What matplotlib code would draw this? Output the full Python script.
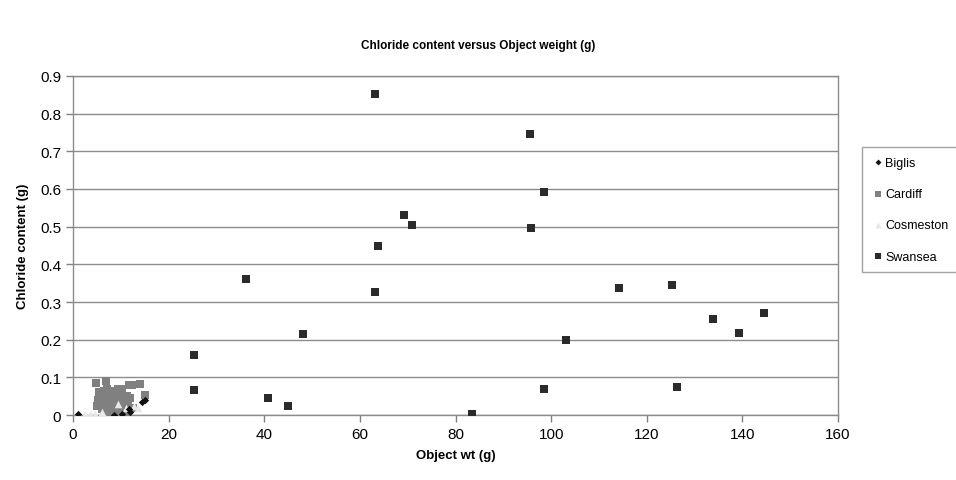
import matplotlib

matplotlib.use("Agg")
import matplotlib.pyplot as plt

plt.rcParams["font.family"] = ["Liberation Sans", "DejaVu Sans"]

# Biglis
biglis_x = [1.0, 14.4, 15.0, 11.9, 11.6, 10.2, 8.5]
biglis_y = [0.004, 0.036, 0.040, 0.007, 0.016, 0.002, 0.001]

# Cardiff
cardiff_x = [4.9, 6.8, 11.6, 12.3, 14.1, 15.1, 5.5, 6.2, 7.0, 7.8, 8.5, 9.2, 10.0, 10.8,
             5.8, 6.5, 7.4, 8.1, 8.9, 9.6, 10.4, 11.2, 12.0, 6.0, 7.2, 8.3, 9.4, 10.6,
             11.5, 5.3, 6.8, 7.9, 9.0, 10.2, 12.6, 7.5, 8.7, 9.8, 6.3, 11.0,
             5.0, 6.0, 7.0, 8.0, 9.0, 10.0, 6.5, 8.5, 7.7, 9.3]
cardiff_y = [0.084, 0.090, 0.081, 0.080, 0.083, 0.052, 0.060, 0.050, 0.070, 0.065, 0.045,
             0.055, 0.068, 0.040, 0.030, 0.038, 0.025, 0.035, 0.020, 0.042, 0.028, 0.050,
             0.045, 0.015, 0.010, 0.018, 0.008, 0.012, 0.030, 0.040, 0.055, 0.005, 0.030,
             0.060, 0.020, 0.045, 0.062, 0.015, 0.025, 0.003,
             0.025, 0.022, 0.048, 0.058, 0.050, 0.035, 0.065, 0.028, 0.032, 0.070]

# Cosmeston
cosmeston_x = [2.5, 3.5, 4.5, 12.8, 13.5, 6.0, 9.5, 11.0]
cosmeston_y = [0.002, 0.004, 0.003, 0.025, 0.018, 0.008, 0.030, 0.020]

# Swansea
swansea_x = [63.1, 95.6, 98.6, 69.3, 70.8, 95.7, 63.8, 63.1, 114.1, 125.2, 133.8, 139.3,
             144.5, 103.0, 48.1, 98.6, 126.4, 83.4, 36.2, 25.4, 25.4, 40.8, 44.9]
swansea_y = [0.852, 0.745, 0.592, 0.531, 0.504, 0.497, 0.448, 0.327, 0.338, 0.344, 0.254,
             0.218, 0.271, 0.200, 0.216, 0.068, 0.075, 0.003, 0.361, 0.160, 0.067, 0.044,
             0.023]

x_ticks = [0, 20, 40, 60, 80, 100, 120, 140, 160]
y_ticks = [0, 0.1, 0.2, 0.3, 0.4, 0.5, 0.6, 0.7, 0.8, 0.9]

fig = plt.figure(figsize=(9.56, 4.81), dpi=100)
ax = fig.add_axes([0.0764, 0.135, 0.8002, 0.705])

ax.scatter(cardiff_x, cardiff_y, marker="s", s=38, color="#808080", label="Cardiff", zorder=3, linewidths=0)
ax.scatter(cosmeston_x, cosmeston_y, marker="^", s=30, color="#e8e8e8", label="Cosmeston", zorder=3, linewidths=0)
ax.scatter(biglis_x, biglis_y, marker="D", s=14, color="#111111", label="Biglis", zorder=4, linewidths=0)
ax.scatter(swansea_x, swansea_y, marker="s", s=27, color="#2b2b2b", label="Swansea", zorder=4, linewidths=0)

ax.set_xlim(0, 160)
ax.set_ylim(0, 0.9)
ax.set_xticks(x_ticks)
ax.set_yticks(y_ticks)
ax.set_yticklabels(["0" if v == 0 else f"{v:.1f}" for v in y_ticks])
ax.tick_params(axis="both", labelsize=11, length=5, color="#808080", direction="out", width=1)
ax.grid(axis="y", color="#8c8c8c", linewidth=1)
ax.set_axisbelow(True)
for side in ["left", "bottom", "top", "right"]:
    ax.spines[side].set_color("#8c8c8c")
    ax.spines[side].set_linewidth(1)

ax.set_xlabel("Object wt (g)", fontsize=9.5, fontweight="bold", labelpad=6)
ax.set_ylabel("Chloride content (g)", fontsize=9.5, fontweight="bold", labelpad=8)
fig.text(0.5, 0.905, "Chloride content versus Object weight (g)", ha="center", va="center",
         fontsize=8.5, fontweight="bold")

handles, labels = ax.get_legend_handles_labels()
order = [labels.index(n) for n in ["Biglis", "Cardiff", "Cosmeston", "Swansea"]]
leg = ax.legend([handles[i] for i in order], [labels[i] for i in order],
                loc="upper left", bbox_to_anchor=(0.9017, 0.692), bbox_transform=fig.transFigure,
                fontsize=9, frameon=True, fancybox=False, edgecolor="#8c8c8c",
                labelspacing=1.55, handletextpad=0.1, handlelength=1.0, borderpad=0.75,
                markerscale=0.8, borderaxespad=0)
leg.get_frame().set_linewidth(1)

fig.savefig("out.png", dpi=100)
plt.close(fig)
